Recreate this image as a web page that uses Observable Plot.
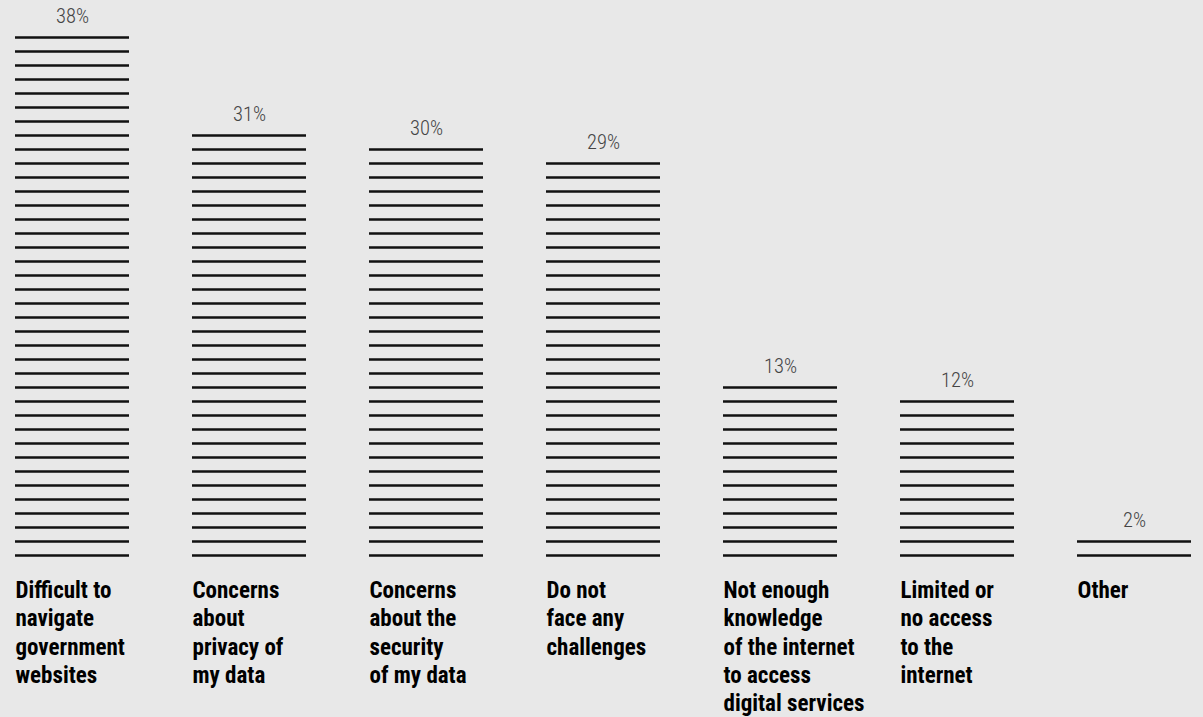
<!DOCTYPE html>
<html>
<head>
<meta charset="utf-8">
<script src="https://cdn.jsdelivr.net/npm/d3@7"></script>
<script src="https://cdn.jsdelivr.net/npm/@observablehq/plot@0.6"></script>
<style>
  html, body { margin: 0; padding: 0; background: #e8e8e8; }
  #chart svg { display: block; }
</style>
</head>
<body>
<div id="chart"></div>
<script>
const categories = [
  "Difficult to\nnavigate\ngovernment\nwebsites",
  "Concerns\nabout\nprivacy of\nmy data",
  "Concerns\nabout the\nsecurity\nof my data",
  "Do not\nface any\nchallenges",
  "Not enough\nknowledge\nof the internet\nto access\ndigital services",
  "Limited or\nno access\nto the\ninternet",
  "Other"
];
const values = [38, 31, 30, 29, 13, 12, 2];
const valueLabels = ["38%", "31%", "30%", "29%", "13%", "12%", "2%"];

const rows = categories.map((c, i) => ({cat: c, value: values[i], label: valueLabels[i]}));
const lines = rows.flatMap(r => d3.range(1, r.value + 1).map(k => ({cat: r.cat, k})));

const bandwidth = 114;
const font = "'Roboto Condensed', Roboto, sans-serif";

const chart = Plot.plot({
  width: 1203,
  height: 717,
  margin: 0,
  style: {background: "#e8e8e8"},
  x: {domain: categories, range: [15, 1191], paddingInner: 0.356, paddingOuter: 0, axis: null},
  y: {domain: [0, 38], range: [569, 37], axis: null},
  marks: [
    Plot.tickY(lines, {x: "cat", y: "k", stroke: "#111", strokeWidth: 2.4}),
    Plot.text(rows, {x: "cat", y: "value", text: "label", lineAnchor: "bottom", dy: -14.5,
      fontSize: 20.5, fontWeight: 300, fill: "#444", fontFamily: font}),
    Plot.text(rows, {x: "cat", y: 0, text: "cat", lineAnchor: "top", textAnchor: "start",
      dx: -bandwidth / 2, dy: 8.5, fontSize: 23, fontWeight: 700, fill: "#000", lineHeight: 1.23,
      fontFamily: font})
  ]
});
document.getElementById("chart").appendChild(chart);
</script>
</body>
</html>
